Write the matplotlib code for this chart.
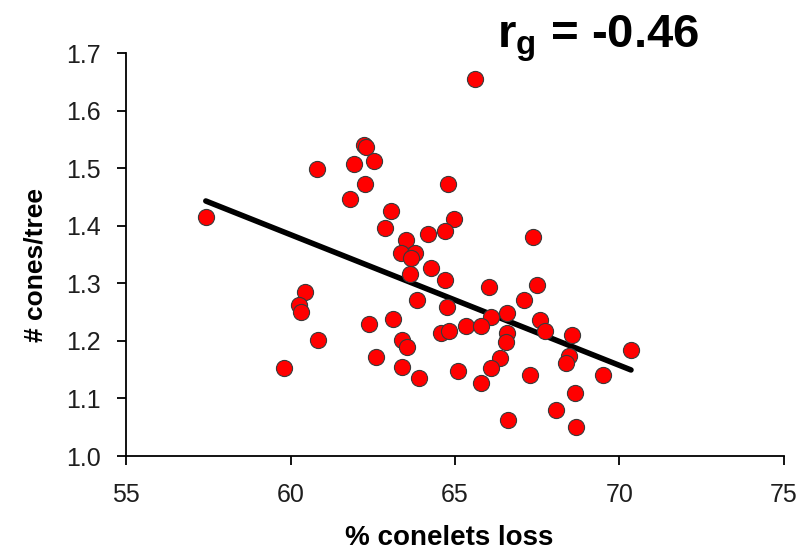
import numpy as np
import matplotlib
matplotlib.use('Agg')
import matplotlib.pyplot as plt

## Values
conelet_loss = [57.42, 62.22, 62.28, 61.93, 62.52, 60.81, 62.27, 61.80, 64.79,
                63.06, 64.96, 62.86, 64.68, 64.17, 63.50, 63.36, 63.77, 63.65,
                64.27, 63.63, 65.62, 67.38, 64.68, 60.43, 60.26, 60.33, 63.83,
                64.76, 65.33, 62.37, 63.12, 64.58, 64.83, 63.40, 63.53, 60.84,
                62.60, 59.81, 63.39, 63.91, 65.10, 66.03, 67.49, 67.11, 66.58,
                66.09, 65.79, 67.58, 67.74, 68.55, 66.58, 66.54, 66.37, 66.09,
                65.79, 67.28, 68.47, 68.37, 69.50, 70.35, 68.65, 68.07, 66.60,
                68.69]
cones_per_tree = [1.416, 1.541, 1.536, 1.508, 1.512, 1.498, 1.473, 1.447, 1.473,
                  1.426, 1.412, 1.396, 1.390, 1.385, 1.375, 1.353, 1.352, 1.344,
                  1.326, 1.317, 1.654, 1.381, 1.306, 1.285, 1.263, 1.250, 1.271,
                  1.259, 1.225, 1.230, 1.238, 1.213, 1.217, 1.201, 1.190, 1.201,
                  1.172, 1.152, 1.154, 1.136, 1.148, 1.293, 1.297, 1.271, 1.249,
                  1.241, 1.226, 1.237, 1.217, 1.211, 1.213, 1.198, 1.170, 1.152,
                  1.126, 1.140, 1.173, 1.162, 1.140, 1.185, 1.110, 1.080, 1.062,
                  1.050]

x_ticks = [55, 60, 65, 70, 75]
y_ticks = [1.0, 1.1, 1.2, 1.3, 1.4, 1.5, 1.6, 1.7]

plt.rcParams['font.family'] = ['Liberation Sans', 'DejaVu Sans']
plt.rcParams['mathtext.fontset'] = 'custom'
plt.rcParams['mathtext.bf'] = 'Liberation Sans:bold'
plt.rcParams['mathtext.rm'] = 'Liberation Sans:bold'

fig = plt.figure(figsize=(8.04, 5.51), dpi=100)
ax = fig.add_axes([0.157, 0.1724, 0.818, 0.7314])

x = np.array(conelet_loss)
y = np.array(cones_per_tree)

## linear trend line over the data range
slope, intercept = np.polyfit(x, y, 1)
xl = np.array([x.min(), x.max()])
ax.plot(xl, slope * xl + intercept, color='black', lw=4, solid_capstyle='round', zorder=2)

ax.scatter(x, y, s=135, c='#ff0000', edgecolors='#3a3a3a', linewidths=0.8, zorder=3)

ax.set_xlim(55, 75)
ax.set_ylim(1.0, 1.7)
ax.set_xticks(x_ticks)
ax.set_yticks(y_ticks)
ax.set_yticklabels(['%.1f' % v for v in y_ticks])

for s in ['top', 'right']:
    ax.spines[s].set_visible(False)
for s in ['left', 'bottom']:
    ax.spines[s].set_linewidth(1.3)
ax.tick_params(direction='out', length=6.5, width=1.3, labelsize=18, labelcolor='#1e1e1e')
ax.tick_params(axis='x', pad=13)
ax.tick_params(axis='y', pad=12)

ax.set_xlabel('% conelets loss', fontsize=20, fontweight='bold')
ax.set_ylabel('# cones/tree', fontsize=19, fontweight='bold')
ax.xaxis.set_label_coords(0.491, -0.171)
ax.yaxis.set_label_coords(-0.12, 0.474)

fig.text(0.744, 0.9147, r'$\mathbf{r}_\mathbf{g}$ = -0.46', fontsize=34, fontweight='bold',
         ha='center', va='baseline')

plt.savefig('out.png', dpi=100)
plt.close()
